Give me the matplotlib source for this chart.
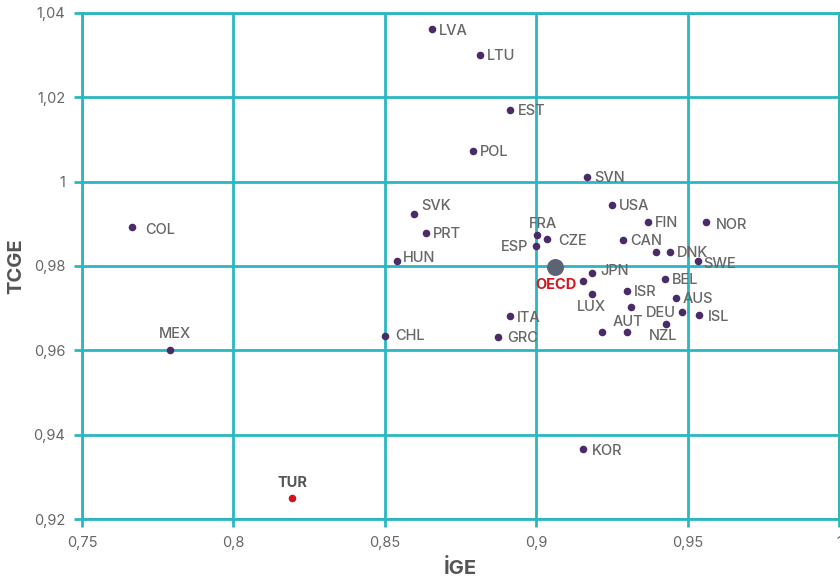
import matplotlib.pyplot as plt
from matplotlib.ticker import FuncFormatter, MultipleLocator

plt.rcParams["font.family"] = ["Inter", "DejaVu Sans"]

# country codes, IGE (x) and TCGE (y)
countries = ["LVA", "LTU", "EST", "POL", "SVN", "USA", "FIN", "NOR", "FRA", "CZE",
             "ESP", "CAN", "", "DNK", "SWE", "JPN", "", "LUX", "ISR", "BEL",
             "AUS", "", "DEU", "ISL", "NZL", "", "AUT", "ITA", "GRC", "CHL",
             "HUN", "SVK", "PRT", "COL", "MEX", "KOR"]
ige = [0.8656, 0.8814, 0.8913, 0.8791, 0.9168, 0.9250, 0.9369, 0.9561, 0.9003, 0.9036,
       0.8999, 0.9287, 0.9396, 0.9442, 0.9534, 0.9183, 0.9153, 0.9183, 0.9300, 0.9426,
       0.9462, 0.9314, 0.9480, 0.9539, 0.9430, 0.9216, 0.9300, 0.8913, 0.8874, 0.8502,
       0.8539, 0.8597, 0.8636, 0.7665, 0.7791, 0.9155]
tcge = [1.0362, 1.0300, 1.0170, 1.0073, 1.0011, 0.9945, 0.9904, 0.9904, 0.9873, 0.9864,
        0.9847, 0.9862, 0.9833, 0.9833, 0.9813, 0.9784, 0.9765, 0.9734, 0.9740, 0.9768,
        0.9724, 0.9703, 0.9691, 0.9683, 0.9662, 0.9643, 0.9643, 0.9682, 0.9632, 0.9634,
        0.9812, 0.9923, 0.9878, 0.9892, 0.9601, 0.9366]

tur_ige, tur_tcge = 0.8194, 0.9250
oecd_ige, oecd_tcge = 0.9062, 0.9797

TEAL = "#2bb7c1"
PURPLE = "#4b2a68"
GREY = "#666666"

# label offsets in pixels (dx, dy, ha); default is to the right
offsets = {
    "LVA": (7, -2, "left"), "NOR": (10, -3, "left"), "CZE": (11, -2, "left"),
    "FRA": (6, 11, "center"), "ESP": (-8, -1, "right"), "SWE": (5, -3, "left"),
    "JPN": (9, 2, "left"), "LUX": (0, -13, "center"), "DEU": (-6, -1, "right"),
    "AUT": (1, 10, "center"), "NZL": (-3, -12, "center"), "MEX": (5, 16, "center"),
    "SVK": (7, 8, "left"), "KOR": (9, -2, "left"), "COL": (13, -3, "left"),
    "ISL": (8, -2, "left"), "HUN": (6, 3, "left"), "CHL": (10, 0, "left"),
    "GRC": (9, -1, "left"), "ITA": (7, -2, "left"), "EST": (8, -1, "left"),
}

fig = plt.figure(figsize=(8.4, 5.85), dpi=100)
ax = fig.add_axes([0.0976, 0.1128, 0.9012, 0.865])
ax.set_xlim(0.75, 1.0)
ax.set_ylim(0.92, 1.04)

ax.scatter(ige, tcge, s=30, color=PURPLE, zorder=3, linewidths=0)
ax.scatter([oecd_ige], [oecd_tcge], s=150, color="#5b6374", zorder=3, linewidths=0)
ax.scatter([tur_ige], [tur_tcge], s=30, color="#d0141b", zorder=3, linewidths=0)

for name, x, y in zip(countries, ige, tcge):
    if not name:
        continue
    dx, dy, ha = offsets.get(name, (7, -1, "left"))
    ax.annotate(name, (x, y), xytext=(dx, dy), textcoords="offset pixels",
                ha=ha, va="center", fontsize=10.5, color=GREY, fontweight="medium")

ax.annotate("OECD", (oecd_ige, oecd_tcge), xytext=(1, -18), textcoords="offset pixels",
            ha="center", va="center", fontsize=10.5, color="#d3171e", fontweight="bold")
ax.annotate("TUR", (tur_ige, tur_tcge), xytext=(0, 15), textcoords="offset pixels",
            ha="center", va="center", fontsize=10.5, color="#555555", fontweight="bold")

ax.xaxis.set_major_locator(MultipleLocator(0.05))
ax.yaxis.set_major_locator(MultipleLocator(0.02))
fmt = FuncFormatter(lambda v, p: ("%g" % round(v, 4)).replace(".", ","))
ax.xaxis.set_major_formatter(fmt)
ax.yaxis.set_major_formatter(fmt)

ax.grid(True, color=TEAL, linewidth=2)
ax.set_axisbelow(True)
for s in ax.spines.values():
    s.set_color(TEAL)
    s.set_linewidth(2)
ax.tick_params(colors=TEAL, labelcolor=GREY, labelsize=10.5, length=6, width=2, pad=6)

ax.set_xlabel("İGE", fontsize=14.5, fontweight="bold", color="#555555", labelpad=7)
ax.set_ylabel("TCGE", fontsize=14.5, fontweight="bold", color="#555555", labelpad=6)

fig.savefig("out.png", dpi=100)
